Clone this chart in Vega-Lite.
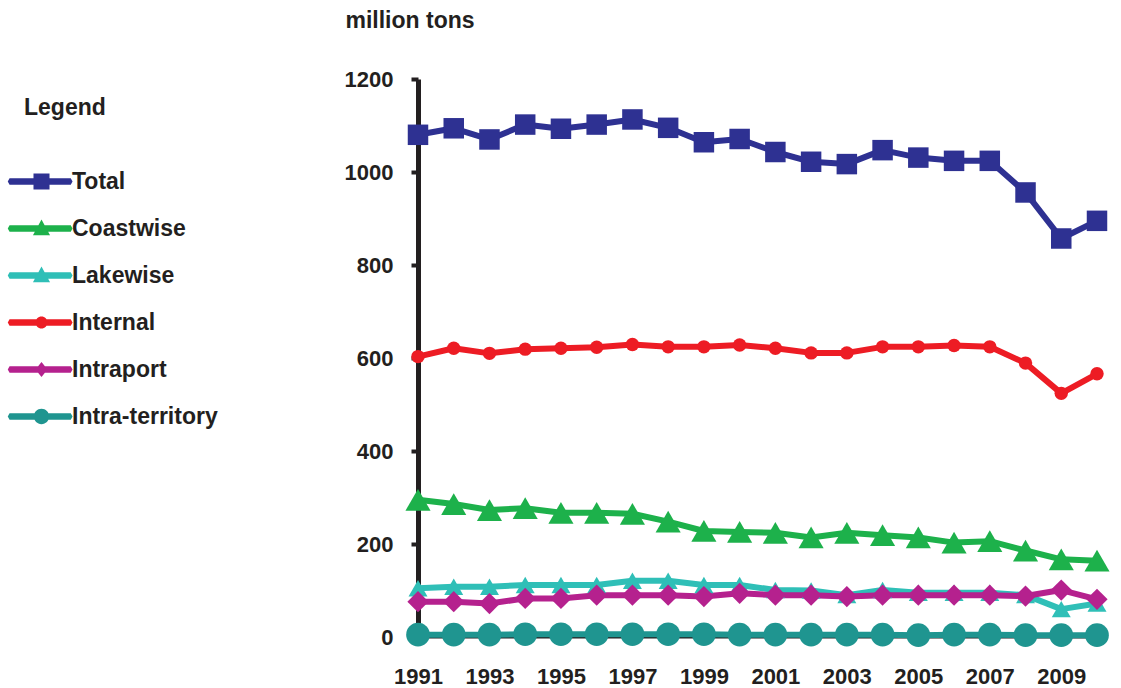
{
  "$schema": "https://vega.github.io/schema/vega-lite/v6.json",
  "width": 679,
  "height": 558,
  "autosize": {"type": "none"},
  "padding": {"left": 418, "top": 79, "right": 24, "bottom": 51},
  "background": "white",
  "config": {
    "view": {"stroke": null},
    "font": "Liberation Sans",
    "axis": {"grid": false, "labelFont": "Liberation Sans", "titleFont": "Liberation Sans", "labelFontWeight": "bold", "labelColor": "#231f20", "titleColor": "#231f20"}
  },
  "data": {"values": [
    {"year":1991,"series":"Total","value":1080},{"year":1992,"series":"Total","value":1094},{"year":1993,"series":"Total","value":1070},{"year":1994,"series":"Total","value":1102},{"year":1995,"series":"Total","value":1093},{"year":1996,"series":"Total","value":1102},{"year":1997,"series":"Total","value":1113},{"year":1998,"series":"Total","value":1095},{"year":1999,"series":"Total","value":1064},{"year":2000,"series":"Total","value":1071},{"year":2001,"series":"Total","value":1043},{"year":2002,"series":"Total","value":1022},{"year":2003,"series":"Total","value":1017},{"year":2004,"series":"Total","value":1047},{"year":2005,"series":"Total","value":1031},{"year":2006,"series":"Total","value":1024},{"year":2007,"series":"Total","value":1024},{"year":2008,"series":"Total","value":956},{"year":2009,"series":"Total","value":857},{"year":2010,"series":"Total","value":895},
    {"year":1991,"series":"Coastwise","value":295},{"year":1992,"series":"Coastwise","value":286},{"year":1993,"series":"Coastwise","value":273},{"year":1994,"series":"Coastwise","value":277},{"year":1995,"series":"Coastwise","value":267},{"year":1996,"series":"Coastwise","value":267},{"year":1997,"series":"Coastwise","value":265},{"year":1998,"series":"Coastwise","value":248},{"year":1999,"series":"Coastwise","value":228},{"year":2000,"series":"Coastwise","value":226},{"year":2001,"series":"Coastwise","value":224},{"year":2002,"series":"Coastwise","value":214},{"year":2003,"series":"Coastwise","value":224},{"year":2004,"series":"Coastwise","value":219},{"year":2005,"series":"Coastwise","value":214},{"year":2006,"series":"Coastwise","value":203},{"year":2007,"series":"Coastwise","value":206},{"year":2008,"series":"Coastwise","value":186},{"year":2009,"series":"Coastwise","value":167},{"year":2010,"series":"Coastwise","value":164},
    {"year":1991,"series":"Lakewise","value":105},{"year":1992,"series":"Lakewise","value":108},{"year":1993,"series":"Lakewise","value":108},{"year":1994,"series":"Lakewise","value":112},{"year":1995,"series":"Lakewise","value":112},{"year":1996,"series":"Lakewise","value":112},{"year":1997,"series":"Lakewise","value":121},{"year":1998,"series":"Lakewise","value":121},{"year":1999,"series":"Lakewise","value":112},{"year":2000,"series":"Lakewise","value":112},{"year":2001,"series":"Lakewise","value":101},{"year":2002,"series":"Lakewise","value":100},{"year":2003,"series":"Lakewise","value":90},{"year":2004,"series":"Lakewise","value":101},{"year":2005,"series":"Lakewise","value":95},{"year":2006,"series":"Lakewise","value":95},{"year":2007,"series":"Lakewise","value":95},{"year":2008,"series":"Lakewise","value":90},{"year":2009,"series":"Lakewise","value":60},{"year":2010,"series":"Lakewise","value":72},
    {"year":1991,"series":"Internal","value":603},{"year":1992,"series":"Internal","value":621},{"year":1993,"series":"Internal","value":610},{"year":1994,"series":"Internal","value":619},{"year":1995,"series":"Internal","value":621},{"year":1996,"series":"Internal","value":623},{"year":1997,"series":"Internal","value":629},{"year":1998,"series":"Internal","value":624},{"year":1999,"series":"Internal","value":624},{"year":2000,"series":"Internal","value":628},{"year":2001,"series":"Internal","value":621},{"year":2002,"series":"Internal","value":611},{"year":2003,"series":"Internal","value":611},{"year":2004,"series":"Internal","value":624},{"year":2005,"series":"Internal","value":624},{"year":2006,"series":"Internal","value":627},{"year":2007,"series":"Internal","value":624},{"year":2008,"series":"Internal","value":589},{"year":2009,"series":"Internal","value":524},{"year":2010,"series":"Internal","value":566},
    {"year":1991,"series":"Intraport","value":76},{"year":1992,"series":"Intraport","value":76},{"year":1993,"series":"Intraport","value":72},{"year":1994,"series":"Intraport","value":83},{"year":1995,"series":"Intraport","value":83},{"year":1996,"series":"Intraport","value":90},{"year":1997,"series":"Intraport","value":90},{"year":1998,"series":"Intraport","value":90},{"year":1999,"series":"Intraport","value":87},{"year":2000,"series":"Intraport","value":94},{"year":2001,"series":"Intraport","value":90},{"year":2002,"series":"Intraport","value":90},{"year":2003,"series":"Intraport","value":87},{"year":2004,"series":"Intraport","value":90},{"year":2005,"series":"Intraport","value":90},{"year":2006,"series":"Intraport","value":90},{"year":2007,"series":"Intraport","value":90},{"year":2008,"series":"Intraport","value":88},{"year":2009,"series":"Intraport","value":101},{"year":2010,"series":"Intraport","value":81},
    {"year":1991,"series":"Intra-territory","value":5},{"year":1992,"series":"Intra-territory","value":5},{"year":1993,"series":"Intra-territory","value":5},{"year":1994,"series":"Intra-territory","value":6},{"year":1995,"series":"Intra-territory","value":6},{"year":1996,"series":"Intra-territory","value":6},{"year":1997,"series":"Intra-territory","value":6},{"year":1998,"series":"Intra-territory","value":6},{"year":1999,"series":"Intra-territory","value":6},{"year":2000,"series":"Intra-territory","value":5},{"year":2001,"series":"Intra-territory","value":5},{"year":2002,"series":"Intra-territory","value":5},{"year":2003,"series":"Intra-territory","value":5},{"year":2004,"series":"Intra-territory","value":5},{"year":2005,"series":"Intra-territory","value":4},{"year":2006,"series":"Intra-territory","value":5},{"year":2007,"series":"Intra-territory","value":5},{"year":2008,"series":"Intra-territory","value":4},{"year":2009,"series":"Intra-territory","value":4},{"year":2010,"series":"Intra-territory","value":4}
  ]},
  "encoding": {
    "x": {
      "field": "year", "type": "quantitative",
      "scale": {"domain": [1991, 2010], "nice": false, "zero": false},
      "axis": {
        "title": null, "values": [1991,1993,1995,1997,1999,2001,2003,2005,2007,2009], "format": "d",
        "ticks": false, "tickSize": 0, "labelPadding": 29, "labelFontSize": 22, "labelFlush": false,
        "domainColor": "#231f20", "domainWidth": 2
      }
    },
    "y": {
      "field": "value", "type": "quantitative",
      "scale": {"domain": [0, 1200], "nice": false},
      "axis": {
        "title": "million tons", "titleAngle": 0, "titleAlign": "left", "titleBaseline": "middle",
        "titleX": -73, "titleY": -59, "titleFontSize": 23, "titleFontWeight": "bold",
        "values": [0,200,400,600,800,1000,1200], "format": "d", "labelFontSize": 22, "labelPadding": 18,
        "tickSize": 7, "tickWidth": 4, "tickColor": "#231f20",
        "domainColor": "#231f20", "domainWidth": 5
      }
    },
    "color": {
      "field": "series", "type": "nominal",
      "scale": {
        "domain": ["Total","Coastwise","Lakewise","Internal","Intraport","Intra-territory"],
        "range": ["#2e3192","#1db14b","#2fbfb7","#ed1c24","#b5218e","#1f9590"]
      },
      "legend": {
        "title": "Legend", "orient": "none", "legendX": -394, "legendY": 18, "direction": "vertical",
        "titleFontSize": 23, "titleFontWeight": "bold", "titleColor": "#231f20", "titlePadding": 50,
        "labelFontSize": 23, "labelFontWeight": "bold", "labelColor": "#231f20", "labelOffset": 19,
        "symbolSize": 324, "rowPadding": 23, "symbolStrokeWidth": 0, "symbolOpacity": 1,
        "encode": {
          "title": {"update": {"dx": {"value": -6}}},
          "symbols": {"update": {
            "size": {"value": 324},
            "strokeWidth": {"value": 0},
            "opacity": {"value": 1},
            "shape": {"signal": "datum.value === 'Total' ? 'M-3.75,0L-3.55,-0.36H3.25L3.45,0L3.25,0.36H-3.55ZM-0.89,-0.89H0.89V0.89H-0.89Z' : (datum.value === 'Coastwise' || datum.value === 'Lakewise') ? 'M-3.75,0L-3.55,-0.36H3.25L3.45,0L3.25,0.36H-3.55ZM0,-1L0.95,0.75H-0.95Z' : datum.value === 'Internal' ? 'M-3.75,0L-3.55,-0.36H3.25L3.45,0L3.25,0.36H-3.55ZM-0.67,0A0.67,0.67 0 1,1 0.67,0A0.67,0.67 0 1,1 -0.67,0Z' : datum.value === 'Intraport' ? 'M-3.75,0L-3.55,-0.36H3.25L3.45,0L3.25,0.36H-3.55ZM0,-0.83L0.67,0L0,0.83L-0.67,0Z' : 'M-3.75,0L-3.55,-0.36H3.25L3.45,0L3.25,0.36H-3.55ZM-0.85,0A0.85,0.85 0 1,1 0.85,0A0.85,0.85 0 1,1 -0.85,0Z'"}
          }}
        }
      }
    }
  },
  "layer": [
    {
      "mark": {"type": "line", "strokeWidth": 6, "strokeJoin": "round"}
    },
    {
      "mark": {"type": "point", "filled": true, "opacity": 1, "strokeWidth": 0},
      "encoding": {
        "shape": {
          "field": "series", "type": "nominal", "legend": null,
          "scale": {
            "domain": ["Intra-territory","Intraport","Internal","Lakewise","Coastwise","Total"],
            "range": ["circle","diamond","circle","triangle-up","triangle-up","square"]
          }
        },
        "size": {
          "field": "series", "type": "nominal", "legend": null,
          "scale": {
            "type": "ordinal",
            "domain": ["Internal","Intra-territory","Intraport","Lakewise","Coastwise","Total"],
            "range": [180, 560, 450, 360, 630, 420]
          }
        }
      }
    }
  ]
}
